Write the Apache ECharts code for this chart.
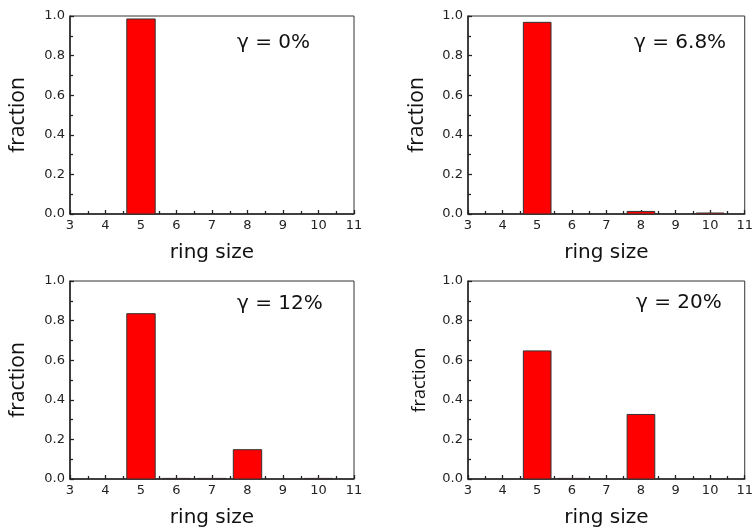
<!DOCTYPE html>
<html>
<head>
<meta charset="utf-8">
<script src="https://cdn.jsdelivr.net/npm/echarts@6/dist/echarts.min.js"></script>
<style>html,body{margin:0;padding:0;background:#fff;}#c{width:756px;height:530px;}</style>
</head>
<body>
<div id="c"></div>
<script>
// ---- data ----
const ringSizes = [4, 5, 6, 7, 8, 9, 10];
const frac_g0  = [0, 0.985, 0, 0, 0, 0, 0];
const frac_g68 = [0, 0.968, 0, 0, 0.013, 0, 0.005];
const frac_g12 = [0, 0.835, 0.003, 0.003, 0.148, 0, 0.003];
const frac_g20 = [0, 0.647, 0.003, 0, 0.326, 0, 0];
const panelLabels = ['γ = 0%', 'γ = 6.8%', 'γ = 12%', 'γ = 20%'];
const xTickMin = 3, xTickMax = 11, xTickStep = 1;
const yTickMin = 0, yTickMax = 1.0, yTickStep = 0.2;
const xName = 'ring size', yName = 'fraction';

// ---- layout ----
const panelData = [frac_g0, frac_g68, frac_g12, frac_g20];
const grids = [
  {left: 70, top: 16, width: 284, height: 198},
  {left: 468, top: 16, width: 280, height: 198},
  {left: 70, top: 281, width: 284, height: 198},
  {left: 468, top: 281, width: 280, height: 198}
];
const titlePos = [[237, 33], [634, 33], [237, 294], [636, 293]];
const yNameSize = [21, 21, 21, 18];
const yNameGap = [41, 40, 41, 39];

const labelFont = 'DejaVu Sans';
const axisColor = '#222';

function renderBar(params, api) {
  const x = api.value(0), y = api.value(1);
  const p0 = api.coord([x - 0.4, 0]);
  const p1 = api.coord([x + 0.4, y]);
  return {
    type: 'rect',
    shape: {x: p0[0], y: p1[1], width: p1[0] - p0[0], height: p0[1] - p1[1]},
    style: {fill: '#ff0000', stroke: '#333', lineWidth: 1}
  };
}

const option = {
  animation: false,
  backgroundColor: '#fff',
  title: panelLabels.map((t, i) => ({
    text: t, left: titlePos[i][0], top: titlePos[i][1], padding: 0,
    textStyle: {fontFamily: labelFont, fontSize: 20, fontWeight: 'normal', color: '#111'}
  })),
  grid: grids.map(g => Object.assign({show: true, borderColor: '#333', borderWidth: 1, backgroundColor: 'transparent'}, g)),
  xAxis: grids.map((g, i) => ({
    type: 'value', gridIndex: i, min: xTickMin, max: xTickMax, interval: xTickStep,
    name: xName, nameLocation: 'middle', nameGap: 29,
    nameTextStyle: {fontFamily: labelFont, fontSize: 20, color: '#111'},
    axisLine: {show: true, onZero: false, lineStyle: {color: axisColor, width: 1.5}},
    axisTick: {show: true, inside: true, length: 4, lineStyle: {color: axisColor, width: 1.3}},
    minorTick: {show: true, splitNumber: 2, length: 3, lineStyle: {color: axisColor, width: 1.3}},
    splitLine: {show: false},
    axisLabel: {fontFamily: labelFont, fontSize: 13, color: '#222', margin: 5}
  })),
  yAxis: grids.map((g, i) => ({
    type: 'value', gridIndex: i, min: yTickMin, max: yTickMax, interval: yTickStep,
    name: yName, nameLocation: 'middle', nameGap: yNameGap[i],
    nameTextStyle: {fontFamily: 'Open Sans', fontSize: yNameSize[i], color: '#111'},
    axisLine: {show: true, lineStyle: {color: axisColor, width: 1.5}},
    axisTick: {show: true, inside: true, length: 4, lineStyle: {color: axisColor, width: 1.3}},
    minorTick: {show: true, splitNumber: 2, length: 3, lineStyle: {color: axisColor, width: 1.3}},
    splitLine: {show: false},
    axisLabel: {fontFamily: labelFont, fontSize: 13, color: '#222', margin: 5,
      formatter: v => v.toFixed(1)}
  })),
  series: panelData.map((arr, i) => ({
    type: 'custom', xAxisIndex: i, yAxisIndex: i,
    renderItem: renderBar,
    data: ringSizes.map((r, k) => [r, arr[k]]).filter(d => d[1] > 0),
    encode: {x: 0, y: 1}
  }))
};

echarts.init(document.getElementById('c'), null, {renderer: 'canvas'}).setOption(option);
</script>
</body>
</html>
